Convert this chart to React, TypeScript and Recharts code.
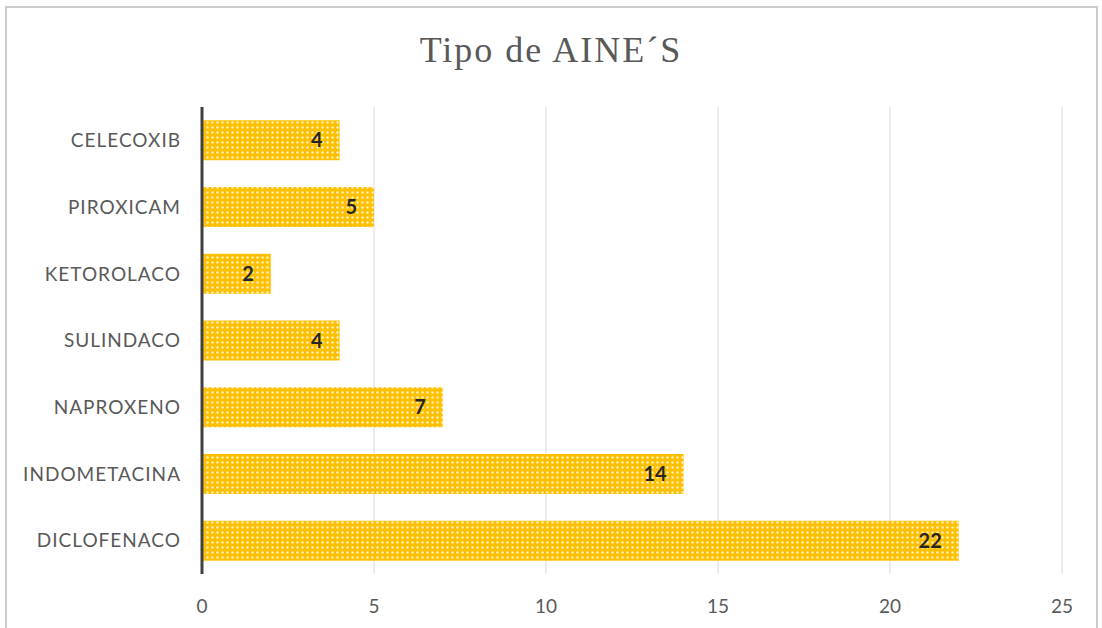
import { BarChart, Bar, XAxis, YAxis, CartesianGrid, LabelList } from 'recharts';

const categories = ['CELECOXIB', 'PIROXICAM', 'KETOROLACO', 'SULINDACO', 'NAPROXENO', 'INDOMETACINA', 'DICLOFENACO'];
const values = [4, 5, 2, 4, 7, 14, 22];
const xTicks = [0, 5, 10, 15, 20, 25];

const data = categories.map((name, i) => ({ name, value: values[i] }));

const FONT = 'Lato, "Open Sans", sans-serif';

function App() {
  return (
    <div style={{ position: 'absolute', left: 0, top: 0, width: 1102, height: 628, overflow: 'hidden', background: '#fff' }}>
      {/* marco del gráfico */}
      <div style={{ position: 'absolute', left: 5, top: 6, width: 1093, height: 700, border: '2px solid #cccccc', boxSizing: 'border-box' }} />
      <div
        style={{
          position: 'absolute',
          left: 0,
          top: 29,
          width: 1102,
          textAlign: 'center',
          fontFamily: '"Liberation Serif", serif',
          fontSize: 36,
          color: '#595959',
          letterSpacing: 2,
        }}
      >
        Tipo de AINE´S
      </div>
      <div style={{ position: 'absolute', left: 0, top: 0 }}>
        <BarChart
          width={1102}
          height={628}
          data={data}
          layout="vertical"
          margin={{ top: 107, right: 40, bottom: 24, left: 0 }}
          barCategoryGap="20%"
        >
          <defs>
            <pattern id="dots" width="5" height="5" patternUnits="userSpaceOnUse">
              <rect width="5" height="5" fill="#FFC000" />
              <circle cx="2.5" cy="2.5" r="1.2" fill="#FFFFFF" fillOpacity={0.75} />
            </pattern>
          </defs>
          <CartesianGrid horizontal={false} stroke="#d9d9d9" strokeWidth={1} />
          <XAxis
            type="number"
            domain={[0, 25]}
            ticks={xTicks}
            axisLine={false}
            tickLine={false}
            tickSize={0}
            tickMargin={26}
            height={30}
            tick={{ fill: '#595959', fontSize: 19, fontFamily: FONT }}
          />
          <YAxis
            type="category"
            dataKey="name"
            width={202}
            axisLine={{ stroke: '#404040', strokeWidth: 3 }}
            tickLine={false}
            tickSize={0}
            tickMargin={21}
            tick={{ fill: '#595959', fontSize: 19, fontFamily: FONT, letterSpacing: 1 }}
          />
          <Bar dataKey="value" fill="url(#dots)" isAnimationActive={false}>
            <LabelList
              dataKey="value"
              position="insideRight"
              offset={17}
              fill="#262626"
              fontSize={20}
              fontWeight="bold"
              fontFamily={FONT}
            />
          </Bar>
        </BarChart>
      </div>
    </div>
  );
}

export default App;
